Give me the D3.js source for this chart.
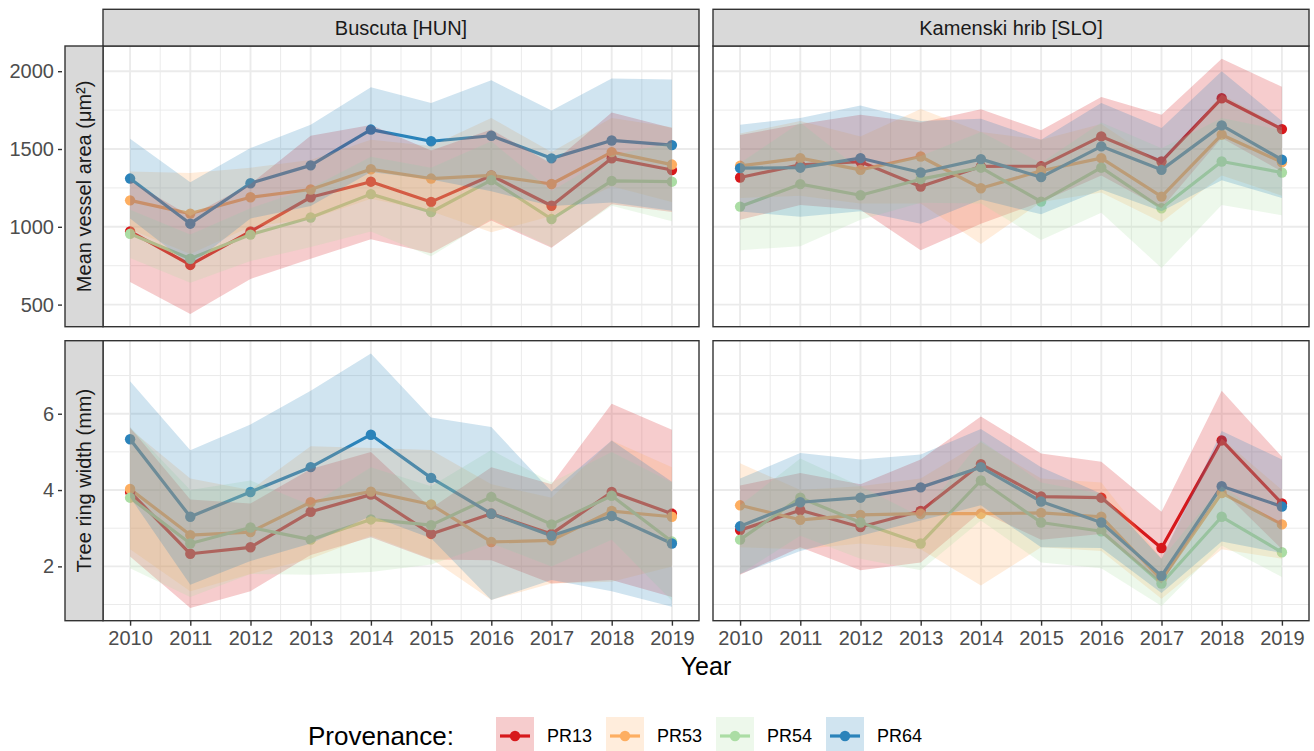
<!DOCTYPE html>
<html>
<head>
<meta charset="utf-8">
<script src="https://cdn.jsdelivr.net/npm/d3@7"></script>
<style>
  body { margin: 0; background: #ffffff; }
  text { font-family: "Liberation Sans", Arial, Helvetica, sans-serif; }
</style>
</head>
<body>
<svg id="chart" width="1314" height="751"></svg>
<script>
// ---- data -------------------------------------------------------------
const years = [2010, 2011, 2012, 2013, 2014, 2015, 2016, 2017, 2018, 2019];
const provenances = ["PR13", "PR53", "PR54", "PR64"];
const palette = ["#D7191C", "#FDAE61", "#ABDDA4", "#2B83BA"];
const sites = ["Buscuta [HUN]", "Kamenski hrib [SLO]"];
const variables = ["Mean vessel area (μm²)", "Tree ring width (mm)"];
const vaTicks = [500, 1000, 1500, 2000];
const trwTicks = [2, 4, 6];

// Mean vessel area, Buscuta (rows follow provenances)
const vaBuscutaMean = [
  [970, 755, 970, 1190, 1290, 1160, 1330, 1135, 1440, 1365],
  [1170, 1085, 1190, 1240, 1370, 1310, 1330, 1275, 1480, 1400],
  [955, 795, 950, 1060, 1210, 1095, 1300, 1050, 1295, 1290],
  [1310, 1020, 1280, 1395, 1625, 1550, 1585, 1440, 1555, 1525]
];
const vaBuscutaLow = [
  [645, 440, 665, 795, 920, 830, 1040, 865, 1145, 1095],
  [985, 825, 1000, 1050, 1180, 1100, 965, 1070, 1260, 1160],
  [800, 640, 780, 870, 970, 810, 1050, 870, 1135, 1035],
  [1054, 753, 1054, 1134, 1353, 1304, 1228, 1133, 1157, 1103]
];
const vaBuscutaHigh = [
  [1295, 1070, 1275, 1585, 1655, 1490, 1625, 1405, 1735, 1635],
  [1355, 1345, 1380, 1430, 1560, 1520, 1700, 1480, 1700, 1640],
  [1110, 950, 1120, 1250, 1450, 1380, 1550, 1230, 1460, 1540],
  [1566, 1287, 1506, 1656, 1897, 1796, 1942, 1747, 1953, 1947]
];

// Mean vessel area, Kamenski hrib
const vaKamenskiMean = [
  [1317, 1398, 1418, 1259, 1388, 1390, 1581, 1420, 1826, 1628],
  [1392, 1441, 1366, 1452, 1248, 1360, 1441, 1194, 1592, 1415],
  [1130, 1274, 1203, 1306, 1380, 1162, 1380, 1119, 1420, 1349],
  [1377, 1380, 1441, 1349, 1435, 1319, 1517, 1366, 1652, 1431]
];
const vaKamenskiLow = [
  [1045, 1140, 1110, 850, 1020, 1160, 1330, 1120, 1570, 1355],
  [1185, 1200, 1150, 1150, 890, 1160, 1220, 1030, 1330, 1200],
  [850, 875, 1045, 1155, 1150, 915, 1090, 735, 1140, 1075],
  [1098, 1065, 1100, 1020, 1175, 1080, 1240, 1100, 1300, 1185]
];
const vaKamenskiHigh = [
  [1590, 1660, 1720, 1670, 1755, 1620, 1835, 1720, 2080, 1900],
  [1600, 1680, 1580, 1757, 1610, 1560, 1660, 1400, 1850, 1640],
  [1410, 1670, 1365, 1455, 1610, 1410, 1670, 1505, 1700, 1620],
  [1656, 1700, 1780, 1680, 1695, 1560, 1795, 1635, 2000, 1680]
];

// Tree ring width, Buscuta
const trwBuscutaMean = [
  [3.95, 2.33, 2.5, 3.43, 3.88, 2.85, 3.38, 2.85, 3.95, 3.38],
  [4.03, 2.82, 2.9, 3.68, 3.96, 3.62, 2.64, 2.68, 3.45, 3.3],
  [3.8, 2.6, 3.02, 2.7, 3.23, 3.08, 3.82, 3.1, 3.85, 2.65],
  [5.33, 3.3, 3.95, 4.6, 5.45, 4.32, 3.38, 2.8, 3.32, 2.6]
];
const trwBuscutaLow = [
  [2.26, 0.91, 1.35, 2.3, 2.76, 2.18, 2.16, 1.55, 1.64, 1.2],
  [2.45, 1.35, 1.8, 2.2, 2.8, 2.2, 1.12, 1.55, 1.6, 2.0],
  [1.95, 1.2, 1.8, 1.78, 1.85, 2.05, 2.6, 2.0, 2.7, 1.1],
  [3.81, 1.52, 2.14, 2.6, 3.32, 2.74, 1.12, 1.64, 1.35, 0.94]
];
const trwBuscutaHigh = [
  [5.64, 3.75, 3.65, 4.55, 5.0, 3.52, 4.6, 4.15, 6.26, 5.58],
  [5.6, 4.3, 4.0, 5.15, 5.1, 5.05, 4.15, 3.8, 5.3, 4.6],
  [5.65, 4.0, 4.25, 3.6, 4.6, 4.1, 5.05, 4.2, 5.0, 4.2],
  [6.85, 5.04, 5.72, 6.6, 7.58, 5.9, 5.65, 3.96, 5.3, 4.22]
];

// Tree ring width, Kamenski hrib
const trwKamenskiMean = [
  [2.95, 3.47, 3.03, 3.45, 4.68, 3.83, 3.8, 2.48, 5.3, 3.65],
  [3.6, 3.22, 3.35, 3.38, 3.38, 3.4, 3.3, 1.65, 3.92, 3.1],
  [2.7, 3.8, 3.15, 2.6, 4.25, 3.15, 2.92, 1.55, 3.3, 2.37],
  [3.05, 3.68, 3.8, 4.07, 4.6, 3.7, 3.15, 1.75, 4.1, 3.57]
];
const trwKamenskiLow = [
  [1.78, 2.5, 1.9, 2.1, 3.43, 2.7, 2.85, 1.55, 4.0, 2.45],
  [2.5, 2.45, 2.6, 2.45, 1.5, 2.5, 2.4, 1.15, 2.45, 2.2],
  [1.8, 2.8, 2.2, 1.9, 3.2, 2.1, 1.95, 0.96, 2.55, 1.72],
  [1.8, 2.4, 2.8, 3.2, 3.6, 2.5, 2.48, 1.3, 2.65, 2.35]
];
const trwKamenskiHigh = [
  [4.12, 4.45, 4.15, 4.8, 5.93, 4.96, 4.74, 3.43, 6.6, 4.87],
  [4.7, 4.0, 4.1, 4.3, 5.25, 4.3, 4.2, 2.2, 5.35, 4.0],
  [3.6, 4.83, 4.1, 3.3, 5.3, 4.2, 3.9, 2.2, 4.1, 3.05],
  [4.3, 4.97, 4.8, 4.93, 5.6, 4.6, 3.9, 2.2, 5.55, 4.8]
];

// ---- layout -----------------------------------------------------------
const svg = d3.select("#chart");
const colX = [[103, 699], [713, 1309]];
const rowY = [[46, 326.7], [340.7, 620.7]];
const stripTop = 9.3;
const stripLeft = [65, 103];
const inkDark = "#333333";
const tickGrey = "#4D4D4D";
const gridGrey = "#EBEBEB";
const ribbonAlpha = 0.22;

const panels = [
  { row: 0, col: 0, mean: vaBuscutaMean, low: vaBuscutaLow, high: vaBuscutaHigh },
  { row: 0, col: 1, mean: vaKamenskiMean, low: vaKamenskiLow, high: vaKamenskiHigh },
  { row: 1, col: 0, mean: trwBuscutaMean, low: trwBuscutaLow, high: trwBuscutaHigh },
  { row: 1, col: 1, mean: trwKamenskiMean, low: trwKamenskiLow, high: trwKamenskiHigh }
];
const rowTicks = [vaTicks, trwTicks];

// shared y domain per row, expanded by 5% on each side
function expanded(lo, hi) {
  const pad = (hi - lo) * 0.05;
  return [lo - pad, hi + pad];
}
const rowDomains = [0, 1].map(r => {
  const ps = panels.filter(p => p.row === r);
  const lo = d3.min(ps, p => d3.min(p.low.flat()));
  const hi = d3.max(ps, p => d3.max(p.high.flat()));
  return expanded(lo, hi);
});
const xDomain = expanded(d3.min(years), d3.max(years));

const xScales = colX.map(([a, b]) => d3.scaleLinear().domain(xDomain).range([a, b]));
const yScales = rowY.map(([t, b], r) => d3.scaleLinear().domain(rowDomains[r]).range([b, t]));

const defs = svg.append("defs");

panels.forEach((p, i) => {
  const x = xScales[p.col];
  const y = yScales[p.row];
  const [x0, x1] = colX[p.col];
  const [y0, y1] = rowY[p.row];

  defs.append("clipPath").attr("id", "clip" + i)
    .append("rect").attr("x", x0).attr("y", y0).attr("width", x1 - x0).attr("height", y1 - y0);

  const g = svg.append("g");
  g.append("rect").attr("x", x0).attr("y", y0).attr("width", x1 - x0).attr("height", y1 - y0)
    .attr("fill", "#ffffff");

  // grid: minor then major
  const yMaj = rowTicks[p.row];
  const step = yMaj[1] - yMaj[0];
  const yMin = d3.range(yMaj[0] - step / 2, yMaj[yMaj.length - 1] + step, step)
    .filter(v => v > rowDomains[p.row][0] && v < rowDomains[p.row][1]);
  const xMin = years.slice(0, -1).map(v => v + 0.5);

  const grid = g.append("g");
  grid.selectAll(".ymin").data(yMin).join("line")
    .attr("x1", x0).attr("x2", x1).attr("y1", d => y(d)).attr("y2", d => y(d))
    .attr("stroke", gridGrey).attr("stroke-width", 1);
  grid.selectAll(".xmin").data(xMin).join("line")
    .attr("x1", d => x(d)).attr("x2", d => x(d)).attr("y1", y0).attr("y2", y1)
    .attr("stroke", gridGrey).attr("stroke-width", 1);
  grid.selectAll(".ymaj").data(yMaj).join("line")
    .attr("x1", x0).attr("x2", x1).attr("y1", d => y(d)).attr("y2", d => y(d))
    .attr("stroke", gridGrey).attr("stroke-width", 1.9);
  grid.selectAll(".xmaj").data(years).join("line")
    .attr("x1", d => x(d)).attr("x2", d => x(d)).attr("y1", y0).attr("y2", y1)
    .attr("stroke", gridGrey).attr("stroke-width", 1.9);

  const marks = g.append("g").attr("clip-path", `url(#clip${i})`);

  const series = provenances.map((name, k) => ({
    name, color: palette[k],
    pts: years.map((yr, j) => ({ yr, m: p.mean[k][j], lo: p.low[k][j], hi: p.high[k][j] }))
  }));

  const line = d3.line().x(d => x(d.yr)).y(d => y(d.m));
  const area = d3.area().x(d => x(d.yr)).y0(d => y(d.lo)).y1(d => y(d.hi));

  marks.selectAll(".ln").data(series).join("path")
    .attr("d", s => line(s.pts)).attr("fill", "none")
    .attr("stroke", s => s.color).attr("stroke-width", 3.2).attr("stroke-linejoin", "round");

  series.forEach(s => {
    marks.append("g").selectAll("circle").data(s.pts).join("circle")
      .attr("cx", d => x(d.yr)).attr("cy", d => y(d.m)).attr("r", 5.2)
      .attr("fill", s.color);
  });

  marks.selectAll(".rb").data(series).join("path")
    .attr("d", s => area(s.pts)).attr("fill", s => s.color).attr("fill-opacity", ribbonAlpha);

  g.append("rect").attr("x", x0).attr("y", y0).attr("width", x1 - x0).attr("height", y1 - y0)
    .attr("fill", "none").attr("stroke", inkDark).attr("stroke-width", 1.4);
});

// ---- strips -----------------------------------------------------------
sites.forEach((s, c) => {
  const [x0, x1] = colX[c];
  svg.append("rect").attr("x", x0).attr("y", stripTop).attr("width", x1 - x0)
    .attr("height", rowY[0][0] - stripTop)
    .attr("fill", "#D9D9D9").attr("stroke", inkDark).attr("stroke-width", 1.4);
  svg.append("text").attr("x", (x0 + x1) / 2).attr("y", (stripTop + rowY[0][0]) / 2)
    .attr("dy", "0.35em").attr("text-anchor", "middle")
    .attr("font-size", 20).attr("fill", "#1A1A1A").text(s);
});

variables.forEach((v, r) => {
  const [y0, y1] = rowY[r];
  svg.append("rect").attr("x", stripLeft[0]).attr("y", y0).attr("width", stripLeft[1] - stripLeft[0])
    .attr("height", y1 - y0)
    .attr("fill", "#D9D9D9").attr("stroke", inkDark).attr("stroke-width", 1.4);
  const cx = (stripLeft[0] + stripLeft[1]) / 2, cy = (y0 + y1) / 2;
  svg.append("text").attr("transform", `translate(${cx},${cy}) rotate(-90)`)
    .attr("dy", "0.35em").attr("text-anchor", "middle")
    .attr("font-size", 20).attr("fill", "#1A1A1A").text(v);
});

// ---- axes -------------------------------------------------------------
yScales.forEach((y, r) => {
  const ax = svg.append("g").attr("transform", `translate(${stripLeft[0] - 3},0)`)
    .call(d3.axisLeft(y).tickValues(rowTicks[r]).tickSize(4).tickPadding(4).tickFormat(d3.format("d")));
  ax.select(".domain").remove();
  ax.selectAll(".tick line").attr("stroke", inkDark).attr("stroke-width", 1.4);
  ax.selectAll(".tick text").attr("fill", tickGrey).attr("font-size", 20)
    .attr("font-family", "Liberation Sans, Arial, sans-serif");
});

xScales.forEach(x => {
  const ax = svg.append("g").attr("transform", `translate(0,${rowY[1][1]})`)
    .call(d3.axisBottom(x).tickValues(years).tickSize(5).tickPadding(5).tickFormat(d3.format("d")));
  ax.select(".domain").remove();
  ax.selectAll(".tick line").attr("stroke", inkDark).attr("stroke-width", 1.4);
  ax.selectAll(".tick text").attr("fill", tickGrey).attr("font-size", 20)
    .attr("font-family", "Liberation Sans, Arial, sans-serif");
});

svg.append("text").attr("x", (colX[0][0] + colX[1][1]) / 2).attr("y", 675)
  .attr("text-anchor", "middle").attr("font-size", 25).attr("fill", "#000000").text("Year");

// ---- legend -----------------------------------------------------------
const legendY = 736;
svg.append("text").attr("x", 308).attr("y", legendY).attr("dy", "0.35em")
  .attr("font-size", 26).attr("fill", "#000000").text("Provenance:");

const keyX = [496, 606, 716, 826];
const keyW = 38, keyH = 38;
provenances.forEach((name, k) => {
  const gx = keyX[k];
  const g = svg.append("g");
  g.append("rect").attr("x", gx).attr("y", legendY - keyH / 2).attr("width", keyW).attr("height", keyH)
    .attr("fill", palette[k]).attr("fill-opacity", ribbonAlpha);
  g.append("line").attr("x1", gx + 4).attr("x2", gx + keyW - 4).attr("y1", legendY).attr("y2", legendY)
    .attr("stroke", palette[k]).attr("stroke-width", 3.2);
  g.append("circle").attr("cx", gx + keyW / 2).attr("cy", legendY).attr("r", 5.2).attr("fill", palette[k]);
  g.append("text").attr("x", gx + keyW + 13).attr("y", legendY).attr("dy", "0.35em")
    .attr("font-size", 18).attr("fill", "#000000").text(name);
});
</script>
</body>
</html>
